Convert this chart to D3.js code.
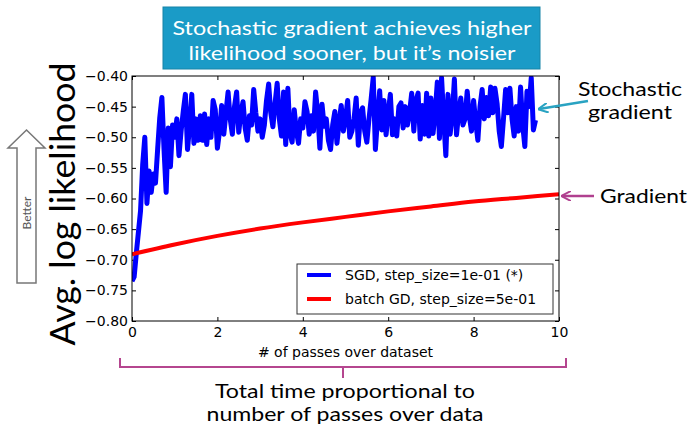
<!DOCTYPE html>
<html>
<head>
<meta charset="utf-8">
<script src="https://cdn.jsdelivr.net/npm/d3@7"></script>
<style>
  body { margin: 0; background: #fff; }
  .tick text { font-family: 'DejaVu Sans', sans-serif; font-size: 14px; fill: #000; }
  .tick line { stroke: #000; }
  .slide { font-family: 'Lato', 'Open Sans', sans-serif; }
</style>
</head>
<body>
<div id="plotSection"></div>
<script>
// SGD log likelihood, sampled every 0.05 passes
const sgdStep = 0.05
const sgdValues = [
  -0.735, -0.728, -0.690, -0.655, -0.620, -0.545, -0.500, -0.608, -0.555, -0.590,
  -0.560, -0.575, -0.520, -0.468, -0.435, -0.520, -0.590, -0.485, -0.548, -0.480,
  -0.500, -0.470, -0.530, -0.490, -0.458, -0.430, -0.520, -0.480, -0.430, -0.510,
  -0.470, -0.505, -0.465,
  -0.505, -0.462, -0.512, -0.470, -0.500, -0.440, -0.455, -0.518, -0.490, -0.448,
  -0.495, -0.460, -0.426, -0.470, -0.495, -0.450, -0.426, -0.492, -0.460, -0.442,
  -0.485, -0.505, -0.465, -0.480, -0.422, -0.460, -0.490, -0.470, -0.500, -0.480,
  -0.440, -0.413, -0.460, -0.483, -0.445, -0.412, -0.470, -0.498, -0.426, -0.512,
  -0.420, -0.494, -0.508, -0.455, -0.490, -0.510, -0.470, -0.485, -0.442, -0.458,
  -0.495, -0.465, -0.490, -0.426, -0.460, -0.518, -0.446, -0.482, -0.470, -0.505,
  -0.520, -0.480, -0.458, -0.510, -0.475, -0.448, -0.490, -0.470, -0.440, -0.500,
  -0.490, -0.470, -0.436, -0.513, -0.460, -0.452, -0.490, -0.508, -0.470, -0.438,
  -0.402, -0.520, -0.470, -0.424, -0.488, -0.440, -0.496, -0.460, -0.430, -0.496,
  -0.470, -0.498, -0.450, -0.444, -0.485, -0.450, -0.480, -0.460, -0.428, -0.490,
  -0.440, -0.428, -0.503, -0.448, -0.495, -0.428, -0.498, -0.436, -0.494, -0.460,
  -0.410, -0.502, -0.403, -0.470, -0.530, -0.430, -0.495, -0.465, -0.405, -0.496,
  -0.460, -0.436, -0.480, -0.470, -0.425, -0.465, -0.490, -0.440, -0.475, -0.505,
  -0.450, -0.422, -0.470, -0.435, -0.465, -0.418, -0.460, -0.420, -0.445, -0.490,
  -0.515, -0.470, -0.422, -0.460, -0.420, -0.470, -0.498, -0.450, -0.490, -0.418,
  -0.480, -0.515, -0.425, -0.450, -0.403, -0.488, -0.472
]

const batchPasses = [0, 1, 2, 3, 4, 5, 6, 7, 8, 9, 10]
const batchValues = [-0.691, -0.675, -0.661, -0.649, -0.639, -0.630, -0.621, -0.613, -0.605, -0.599, -0.593]

const xTicks = [0, 2, 4, 6, 8, 10]
const yTicks = [-0.80, -0.75, -0.70, -0.65, -0.60, -0.55, -0.50, -0.45, -0.40]

const seriesNames = ['SGD, step_size=1e-01 (*)', 'batch GD, step_size=5e-01']
const seriesColors = ['#0000ff', '#ff0000']

const W = 693, H = 433
const margin = { top: 76, right: 134, bottom: 112, left: 132 }
const width = W - margin.left - margin.right
const height = H - margin.top - margin.bottom

const xScale = d3.scaleLinear().domain([0, 10]).range([0, width])
const yScale = d3.scaleLinear().domain([-0.80, -0.40]).range([height, 0])

const sgd = sgdValues.map((v, i) => ({ pass: i * sgdStep, ll: v }))
const batch = batchPasses.map((p, i) => ({ pass: p, ll: batchValues[i] }))

const root = d3.select('#plotSection').append('svg')
    .attr('width', W)
    .attr('height', H)

const svg = root.append('g')
    .attr('transform', `translate(${margin.left},${margin.top})`)

svg.append('clipPath').attr('id', 'clip')
    .append('rect').attr('width', width).attr('height', height)

// axes, matplotlib style: ticks pointing inward on all sides
svg.append('g')
    .attr('class', 'x axis')
    .attr('transform', `translate(0,${height})`)
    .call(d3.axisBottom(xScale).tickValues(xTicks).tickFormat(d3.format('d')).tickSize(-4).tickPadding(6))
svg.append('g')
    .attr('class', 'x axis')
    .call(d3.axisTop(xScale).tickValues(xTicks).tickFormat('').tickSize(-4))
svg.append('g')
    .attr('class', 'y axis')
    .call(d3.axisLeft(yScale).tickValues(yTicks).tickFormat(d3.format('.2f')).tickSize(-4).tickPadding(4))
svg.append('g')
    .attr('class', 'y axis')
    .attr('transform', `translate(${width},0)`)
    .call(d3.axisRight(yScale).tickValues(yTicks).tickFormat('').tickSize(-4))
svg.selectAll('.domain').remove()

const line = d3.line().x(d => xScale(d.pass)).y(d => yScale(d.ll))

svg.append('path')
    .datum(sgd)
    .attr('clip-path', 'url(#clip)')
    .attr('fill', 'none')
    .attr('stroke', seriesColors[0])
    .attr('stroke-width', 5)
    .attr('stroke-linejoin', 'round')
    .attr('d', line)

svg.append('path')
    .datum(batch)
    .attr('clip-path', 'url(#clip)')
    .attr('fill', 'none')
    .attr('stroke', seriesColors[1])
    .attr('stroke-width', 4)
    .attr('d', line.curve(d3.curveMonotoneX))

svg.append('rect')
    .attr('width', width)
    .attr('height', height)
    .attr('fill', 'none')
    .attr('stroke', '#000')
    .attr('stroke-width', 1)

svg.append('text')
    .attr('x', width / 2)
    .attr('y', height + 36)
    .attr('text-anchor', 'middle')
    .style('font-family', 'DejaVu Sans, sans-serif')
    .style('font-size', '14px')
    .text('# of passes over dataset')

// legend
const legend = svg.append('g').attr('transform', `translate(${width - 262},${height - 57})`)
legend.append('rect')
    .attr('width', 256).attr('height', 50)
    .attr('fill', '#fff').attr('stroke', '#333').attr('stroke-width', 1)
const item = legend.selectAll('.legend')
    .data(seriesNames)
    .enter().append('g')
    .attr('class', 'legend')
    .attr('transform', (d, i) => `translate(0,${11 + i * 24})`)
item.append('line')
    .attr('x1', 10).attr('x2', 34)
    .attr('stroke', (d, i) => seriesColors[i])
    .attr('stroke-width', 4)
item.append('text')
    .attr('x', 48)
    .attr('dy', '0.36em')
    .style('font-family', 'DejaVu Sans, sans-serif')
    .style('font-size', '14px')
    .text(d => d)

// slide text helper: stretch to the width measured on the reference
function slideText(sel, x, y, size, len, txt) {
  return sel.append('text')
      .attr('class', 'slide')
      .attr('x', x).attr('y', y)
      .attr('text-anchor', 'middle')
      .attr('textLength', len)
      .attr('lengthAdjust', 'spacingAndGlyphs')
      .style('font-size', `${size}px`)
      .text(txt)
}

// y label
root.append('text')
    .attr('class', 'slide')
    .attr('transform', 'translate(75,204) rotate(-90)')
    .attr('text-anchor', 'middle')
    .attr('textLength', 283)
    .attr('lengthAdjust', 'spacingAndGlyphs')
    .style('font-size', '34px')
    .text('Avg. log likelihood')

// "Better" arrow
root.append('path')
    .attr('d', 'M26.5,130 L45,148 L36,148 L36,283 L17,283 L17,148 L8,148 Z')
    .attr('fill', '#fff')
    .attr('stroke', '#777')
    .attr('stroke-width', 1.5)
root.append('text')
    .attr('class', 'slide')
    .attr('transform', 'translate(31,213) rotate(-90)')
    .attr('text-anchor', 'middle')
    .style('font-size', '12px')
    .style('fill', '#555')
    .text('Better')

// title box
root.append('rect')
    .attr('x', 163).attr('y', 7).attr('width', 377).attr('height', 62)
    .attr('fill', '#1a9bc7').attr('stroke', '#1784a8')
slideText(root, 352, 35, 20, 359, 'Stochastic gradient achieves higher').style('fill', '#fff')
slideText(root, 352, 60, 20, 327, 'likelihood sooner, but it\u2019s noisier').style('fill', '#fff')

// annotations
const defs = root.append('defs')
;[['tealHead', '#29a3c2'], ['magHead', '#b0408f']].forEach(([id, c]) => {
  defs.append('marker').attr('id', id)
      .attr('viewBox', '0 0 10 10').attr('refX', 9).attr('refY', 5)
      .attr('markerWidth', 4).attr('markerHeight', 4).attr('orient', 'auto')
      .append('path').attr('d', 'M0,0 L10,5 L0,10').attr('fill', 'none').attr('stroke', c).attr('stroke-width', 2)
})
root.append('line')
    .attr('x1', 588).attr('y1', 101).attr('x2', 539).attr('y2', 109)
    .attr('stroke', '#29a3c2').attr('stroke-width', 2.5).attr('marker-end', 'url(#tealHead)')
root.append('line')
    .attr('x1', 594).attr('y1', 196).attr('x2', 562).attr('y2', 196)
    .attr('stroke', '#b0408f').attr('stroke-width', 2.5).attr('marker-end', 'url(#magHead)')
slideText(root, 630, 96, 19, 104, 'Stochastic')
slideText(root, 630, 119, 19, 84, 'gradient')
slideText(root, 643.5, 203, 20, 87, 'Gradient')

// bracket under x axis
root.append('path')
    .attr('d', 'M120,358 L120,367 L566,367 L566,358 M343,367 L343,378')
    .attr('fill', 'none').attr('stroke', '#b5468f').attr('stroke-width', 2)
slideText(root, 345, 398, 19, 260, 'Total time proportional to')
slideText(root, 345, 421, 19, 277, 'number of passes over data')
</script>
</body>
</html>
